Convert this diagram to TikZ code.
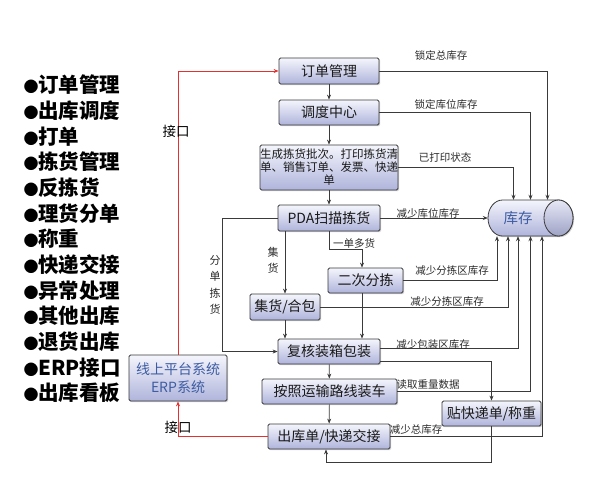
\documentclass[tikz,border=0pt]{standalone}
\usepackage{fontspec}
\setmainfont{Noto Sans CJK SC}
\usetikzlibrary{arrows.meta,shadows}
\definecolor{boxtop}{HTML}{F4F5FC}
\definecolor{boxbot}{HTML}{AFB4DB}
\definecolor{edge}{HTML}{3A3A3A}
\definecolor{redl}{HTML}{E53030}
\definecolor{bluet}{HTML}{3D5CA3}
\definecolor{lbl}{HTML}{2A2A2A}
\newcommand{\mybul}{\makebox[14pt][c]{\fontsize{15}{15}\selectfont ●}}
\begin{document}
\begin{tikzpicture}[x=1pt,y=-1pt,
  box/.style={draw=edge, line width=0.8pt, rounded corners=1.5pt, top color=boxtop, bottom color=boxbot,
    drop shadow={shadow xshift=1.2pt, shadow yshift=-1.2pt, opacity=0.3, fill=black!60},
    font=\fontsize{14}{16}\selectfont, inner sep=0pt, text=black!90},
  arr/.style={draw=edge, line width=0.7pt, -{Stealth[length=5pt,width=4pt]}},
  redarr/.style={draw=redl, line width=0.8pt, -{Stealth[length=5pt,width=4pt]}},
  elbl/.style={font=\fontsize{10.5}{12}\selectfont, text=lbl, inner sep=0pt},
  jklbl/.style={font=\fontsize{13.5}{15}\selectfont, text=black, inner sep=0pt},
  listitem/.style={anchor=west, font=\bfseries\fontsize{20.5}{22}\selectfont, inner sep=0pt}]
\useasboundingbox (0,0) rectangle (592,477);

% left list
\foreach \t [count=\i] in {订单管理,出库调度,打单,拣货管理,反拣货,理货分单,称重,快递交接,异常处理,其他出库,退货出库,ERP接口,出库看板}
  \node[listitem] (l\i) at ({24},{85+(\i-1)*25.67}) {\mybul\t};

% boxes
\node[box, minimum width=100pt, minimum height=26pt] (ddgl) at (329,71) {订单管理};
\node[box, minimum width=100pt, minimum height=25pt] (ddzx) at (329,112.5) {调度中心};
\node[box, minimum width=138pt, minimum height=45pt, align=center, font=\fontsize{11.5}{13}\selectfont] (scjh) at (329,167.5)
  {生成拣货批次。打印拣货清\\单、销售订单、发票、快递\\单};
\node[box, minimum width=102pt, minimum height=26pt] (pda) at (329,218) {PDA扫描拣货};
\node[box, minimum width=75pt, minimum height=25pt] (ecfj) at (365.5,280.5) {二次分拣};
\node[box, minimum width=70pt, minimum height=26pt] (jh) at (285,307) {集货/合包};
\node[box, minimum width=102pt, minimum height=25pt] (fh) at (329,351.5) {复核装箱包装};
\node[box, minimum width=135pt, minimum height=25pt] (zc) at (329.5,391.5) {按照运输路线装车};
\node[box, minimum width=122pt, minimum height=25pt] (ck) at (329,436.5) {出库单/快递交接};
\node[box, minimum width=99pt, minimum height=25pt] (tk) at (491.5,413.5) {贴快递单/称重};
\node[box, minimum width=98pt, minimum height=46pt, align=center, text=bluet, font=\fontsize{14}{18}\selectfont] (erp) at (178,378)
  {线上平台系统\\ERP系统};

% cylinder 库存
\node[minimum width=85pt, minimum height=36pt, inner sep=0pt] (kc) at (530.5,218) {};
\path[draw=edge, line width=0.8pt, top color=boxtop, bottom color=boxbot,
  drop shadow={shadow xshift=1.2pt, shadow yshift=-1.2pt, opacity=0.3, fill=black!60}]
  (502.5,200) -- (558.5,200) arc(-90:90:14.5 and 18) -- (502.5,236) arc(90:270:14.5 and 18) -- cycle;
\path[draw=edge, line width=0.8pt, top color=boxtop!80!boxbot, bottom color=boxbot!90!black] (558.5,218) ellipse (14.5 and 18);
\node[font=\fontsize{14.5}{16}\selectfont, text=bluet, inner sep=0pt] (kct) at (518,218) {库存};

% main chain
\draw[arr] (ddgl) -- (ddzx);
\draw[arr] (ddzx) -- (scjh);
\draw[arr] (scjh) -- (pda);
\draw[arr] (fh) -- (zc);
\draw[arr] (zc) -- (ck);
\draw[arr] (pda.south) -- ++(0,18) -| ([xshift=-3.5pt]ecfj.north);
\draw[arr] (jh.north |- pda.south) -- (jh.north);
\draw[arr] (pda.west) -- ++(-55,0) |- (fh.west);
\draw[arr] (jh.south) -- (jh.south |- fh.north);
\draw[arr] ([xshift=-3.5pt]ecfj.south) -- ([xshift=-3.5pt]ecfj.south |- fh.north);

% to inventory
\draw[arr] (ddgl.east) -| ([xshift=17pt]kc.north);
\draw[arr] (ddzx.east) -| (kc.north);
\draw[arr] (scjh.east) -| ([xshift=-17pt]kc.north);
\draw[arr] (pda.east) -- (kc.west);
\draw[arr] (ecfj.east) -| ([xshift=-33.5pt]kc.south);
\draw[arr] (jh.east) -| ([xshift=-22.5pt]kc.south);
\draw[arr] ([yshift=3pt]fh.east) -| ([xshift=-12.5pt]kc.south);
\draw[arr] (zc.east) -| (kc.south);
\draw[arr] (ck.east) -| ([xshift=11.5pt]kc.south);
\draw[arr] ([yshift=-10pt]fh.east) -| (tk.north);
\draw[arr] (tk.south) -- ++(0,36) -| ([xshift=-3pt]ck.south);

% red interface lines
\draw[redarr] (erp.north) |- (ddgl.west);
\draw[redarr] (ck.west) -| (erp.south);

% labels
\node[elbl] (t1) at (441,55) {锁定总库存};
\node[elbl] (t2) at (446,104) {锁定库位库存};
\node[elbl] (t3) at (445,157) {已打印状态};
\node[elbl] (t4) at (428,213) {减少库位库存};
\node[elbl] (t5) at (452,271) {减少分拣区库存};
\node[elbl] (t6) at (447,302) {减少分拣区库存};
\node[elbl] (t7) at (433,345) {减少包装区库存};
\node[elbl] (t8) at (428,385) {读取重量数据};
\node[elbl] (t9) at (416,430) {减少总库存};
\node[elbl] (t10) at (354,243) {一单多货};
\node[elbl, align=center, font=\fontsize{11}{16}\selectfont] (t11) at (273,260) {集\\货};
\node[elbl, align=center, font=\fontsize{11}{16.5}\selectfont] (t12) at (215,285) {分\\单\\拣\\货};
\node[jklbl] (j1) at (176,131) {接口};
\node[jklbl] (j2) at (178,427) {接口};
\end{tikzpicture}
\end{document}
